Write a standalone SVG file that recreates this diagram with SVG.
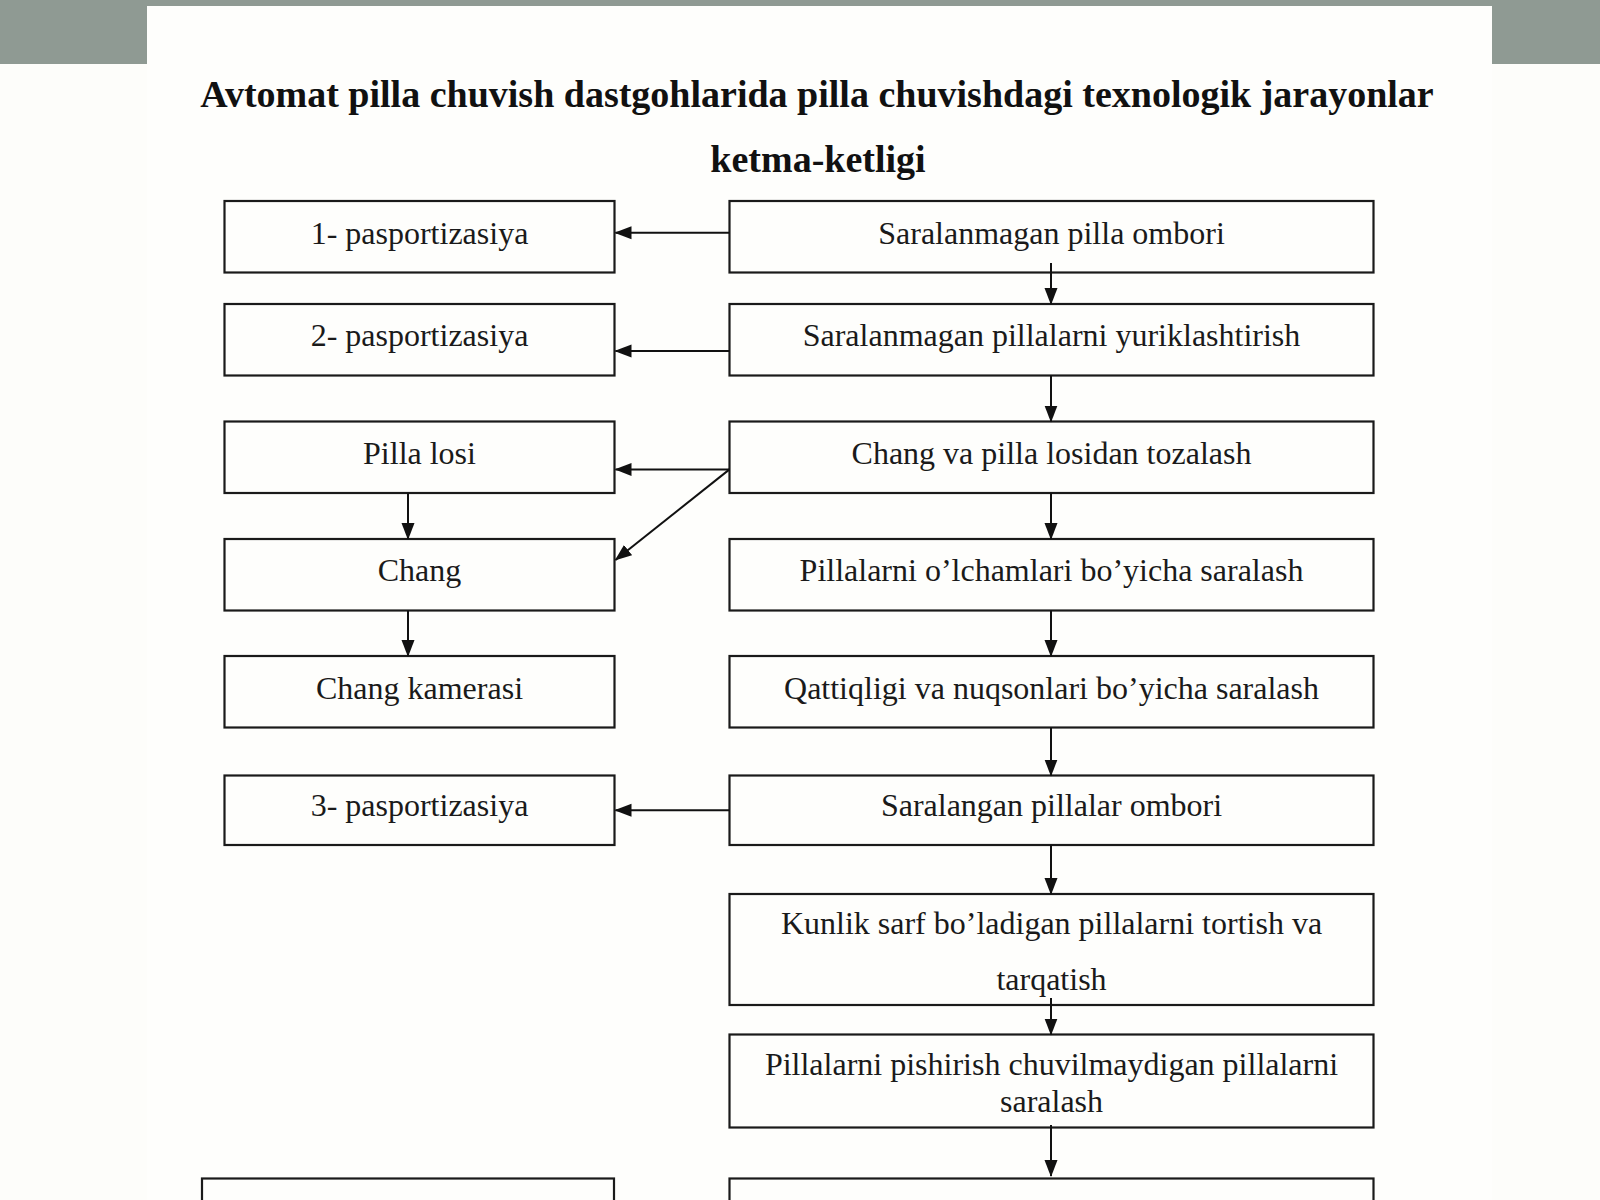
<svg xmlns="http://www.w3.org/2000/svg" width="1600" height="1200" viewBox="0 0 1600 1200">
<defs>
<marker id="ah" markerUnits="userSpaceOnUse" markerWidth="17" markerHeight="15" viewBox="0 0 17 15" refX="16" refY="7.5" orient="auto">
<path d="M0,1 L17,7.5 L0,14 Z" fill="#111"/>
</marker>
</defs>
<style>
.box{fill:none;stroke:#1a1a1a;stroke-width:2.2}
.t{font-family:"Liberation Serif","Times New Roman",serif;font-size:32px;fill:#1a1a1a;text-anchor:middle}
.title{font-family:"Liberation Serif","Times New Roman",serif;font-size:38px;font-weight:bold;fill:#111;text-anchor:middle}
.c{stroke:#111;stroke-width:2;fill:none;marker-end:url(#ah)}
</style>
<rect x="0" y="0" width="1600" height="1200" fill="#fdfdfa"/>
<rect x="0" y="0" width="1600" height="6" fill="#8f9a93"/>
<rect x="0" y="0" width="147" height="64" fill="#8f9a93"/>
<rect x="1492" y="0" width="108" height="64" fill="#8f9a93"/>
<rect x="147" y="6" width="1345" height="1194" fill="#fefefc"/>

<g id="title">
<text class="title" x="817" y="107">Avtomat pilla chuvish dastgohlarida pilla chuvishdagi texnologik jarayonlar</text>
<text class="title" x="818" y="172">ketma-ketligi</text>
</g>

<g id="n-pasport1"><rect class="box" x="224.5" y="201" width="390" height="71.5"/><text class="t" x="419.5" y="244">1- pasportizasiya</text></g>
<g id="n-ombori1"><rect class="box" x="729.5" y="201" width="644" height="71.5"/><text class="t" x="1051.5" y="244">Saralanmagan pilla ombori</text></g>
<g id="n-pasport2"><rect class="box" x="224.5" y="304" width="390" height="71.5"/><text class="t" x="419.5" y="346">2- pasportizasiya</text></g>
<g id="n-yuriklash"><rect class="box" x="729.5" y="304" width="644" height="71.5"/><text class="t" x="1051.5" y="346">Saralanmagan pillalarni yuriklashtirish</text></g>
<g id="n-pillalosi"><rect class="box" x="224.5" y="421.5" width="390" height="71.5"/><text class="t" x="419.5" y="464">Pilla losi</text></g>
<g id="n-tozalash"><rect class="box" x="729.5" y="421.5" width="644" height="71.5"/><text class="t" x="1051.5" y="464">Chang va pilla losidan tozalash</text></g>
<g id="n-chang"><rect class="box" x="224.5" y="539" width="390" height="71.5"/><text class="t" x="419.5" y="581">Chang</text></g>
<g id="n-olcham"><rect class="box" x="729.5" y="539" width="644" height="71.5"/><text class="t" x="1051.5" y="581">Pillalarni o’lchamlari bo’yicha saralash</text></g>
<g id="n-kamera"><rect class="box" x="224.5" y="656" width="390" height="71.5"/><text class="t" x="419.5" y="699">Chang kamerasi</text></g>
<g id="n-qattiq"><rect class="box" x="729.5" y="656" width="644" height="71.5"/><text class="t" x="1051.5" y="699">Qattiqligi va nuqsonlari bo’yicha saralash</text></g>
<g id="n-pasport3"><rect class="box" x="224.5" y="775.5" width="390" height="69.5"/><text class="t" x="419.5" y="816">3- pasportizasiya</text></g>
<g id="n-ombori2"><rect class="box" x="729.5" y="775.5" width="644" height="69.5"/><text class="t" x="1051.5" y="816">Saralangan pillalar ombori</text></g>
<g id="n-kunlik"><rect class="box" x="729.5" y="894" width="644" height="111"/><text class="t" x="1051.5" y="934">Kunlik sarf bo’ladigan pillalarni tortish va</text><text class="t" x="1051.5" y="990">tarqatish</text></g>
<g id="n-pishirish"><rect class="box" x="729.5" y="1034.5" width="644" height="93"/><text class="t" x="1051.5" y="1075">Pillalarni pishirish chuvilmaydigan pillalarni</text><text class="t" x="1051.5" y="1112">saralash</text></g>
<g id="n-bottom-left"><rect class="box" x="202" y="1178.5" width="412" height="60"/></g>
<g id="n-bottom-right"><rect class="box" x="729.5" y="1178.5" width="644" height="60"/></g>

<g id="connectors">
<line class="c" x1="729.5" y1="232.7" x2="615.5" y2="232.7"/>
<line class="c" x1="729.5" y1="351" x2="615.5" y2="351"/>
<line class="c" x1="729.5" y1="469.4" x2="615.5" y2="469.4"/>
<line class="c" x1="729.5" y1="469.4" x2="615.5" y2="560"/>
<line class="c" x1="729.5" y1="810.2" x2="615.5" y2="810.2"/>
<line class="c" x1="1051" y1="263" x2="1051" y2="304"/>
<line class="c" x1="1051" y1="375.5" x2="1051" y2="421.5"/>
<line class="c" x1="1051" y1="493" x2="1051" y2="539"/>
<line class="c" x1="1051" y1="610.5" x2="1051" y2="656"/>
<line class="c" x1="1051" y1="727.5" x2="1051" y2="775.5"/>
<line class="c" x1="1051" y1="845" x2="1051" y2="894"/>
<line class="c" x1="1051" y1="998" x2="1051" y2="1034.5"/>
<line class="c" x1="1051" y1="1125" x2="1051" y2="1176"/>
<line class="c" x1="408" y1="493" x2="408" y2="539"/>
<line class="c" x1="408" y1="610.5" x2="408" y2="656"/>
</g>
</svg>
